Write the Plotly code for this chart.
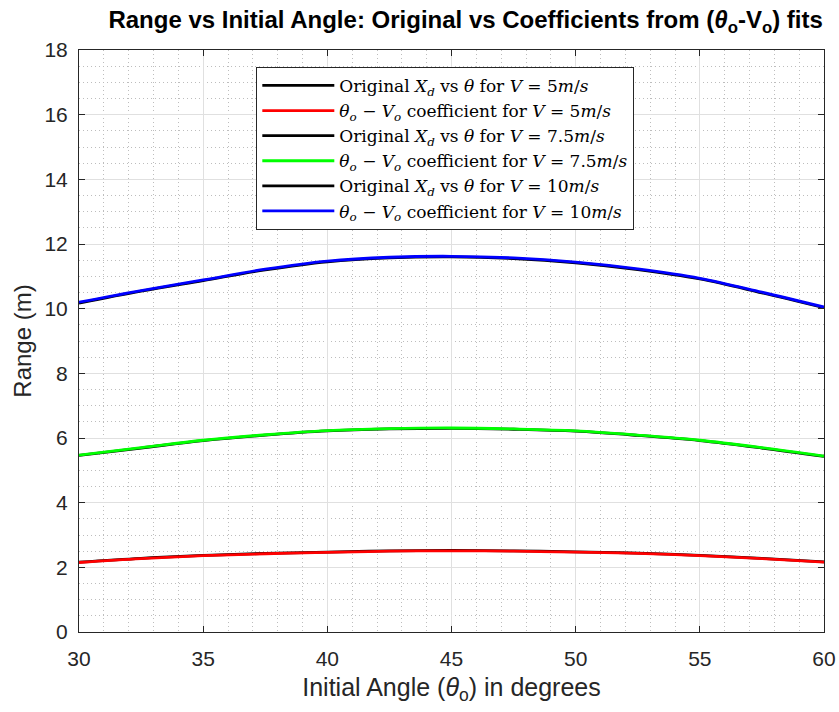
import plotly.graph_objects as go

# Launch angles (degrees)
angles = [30, 32.5, 35, 37.5, 40, 42.5, 45, 47.5, 50, 52.5, 55, 57.5, 60]

# Original range data X_d vs theta
orig_v5 = [2.16, 2.28, 2.37, 2.43, 2.47, 2.51, 2.52, 2.51, 2.48, 2.44, 2.37, 2.28, 2.17]
orig_v75 = [5.46, 5.69, 5.92, 6.09, 6.22, 6.28, 6.30, 6.27, 6.21, 6.08, 5.92, 5.69, 5.43]
orig_v10 = [10.17, 10.54, 10.87, 11.20, 11.45, 11.57, 11.60, 11.55, 11.42, 11.21, 10.92, 10.49, 10.03]

# Ranges rebuilt from the theta_o - V_o fit coefficients
fit_v5 = [2.15, 2.27, 2.36, 2.42, 2.46, 2.50, 2.51, 2.50, 2.47, 2.43, 2.36, 2.27, 2.16]
fit_v75 = [5.47, 5.70, 5.93, 6.10, 6.23, 6.29, 6.31, 6.28, 6.22, 6.09, 5.93, 5.70, 5.44]
fit_v10 = [10.20, 10.56, 10.89, 11.22, 11.47, 11.59, 11.62, 11.57, 11.44, 11.23, 10.94, 10.51, 10.05]

serif = "DejaVu Serif, Liberation Serif, serif"
sans = "Liberation Sans, Arial, sans-serif"
ink = "#262626"

series = [
    (orig_v5, "black", "Original <i>X</i><sub><i>d</i></sub> vs <i>θ</i> for <i>V</i> = 5<i>m</i>/<i>s</i>"),
    (fit_v5, "#ff0000", "<i>θ</i><sub><i>o</i></sub> − <i>V</i><sub><i>o</i></sub> coefficient for <i>V</i> = 5<i>m</i>/<i>s</i>"),
    (orig_v75, "black", "Original <i>X</i><sub><i>d</i></sub> vs <i>θ</i> for <i>V</i> = 7.5<i>m</i>/<i>s</i>"),
    (fit_v75, "#00ff00", "<i>θ</i><sub><i>o</i></sub> − <i>V</i><sub><i>o</i></sub> coefficient for <i>V</i> = 7.5<i>m</i>/<i>s</i>"),
    (orig_v10, "black", "Original <i>X</i><sub><i>d</i></sub> vs <i>θ</i> for <i>V</i> = 10<i>m</i>/<i>s</i>"),
    (fit_v10, "#0000ff", "<i>θ</i><sub><i>o</i></sub> − <i>V</i><sub><i>o</i></sub> coefficient for <i>V</i> = 10<i>m</i>/<i>s</i>"),
]

fig = go.Figure()
for ys, color, name in series:
    fig.add_trace(go.Scatter(
        x=angles, y=ys, mode="lines", name=name,
        line=dict(color=color, width=2.8, shape="spline", smoothing=1.0),
    ))

axis_common = dict(
    showline=True, linecolor=ink, linewidth=1, mirror="ticks",
    ticks="inside", ticklen=6, tickcolor=ink,
    tickfont=dict(family=sans, size=21, color=ink),
    showgrid=True, gridcolor="#e0e0e0", gridwidth=1,
    zeroline=False, automargin=False,
)

fig.update_xaxes(
    range=[30, 60], tick0=30, dtick=5, ticklabelstandoff=8,
    minor=dict(dtick=1, showgrid=True, gridcolor="#bdbdbd", griddash="1px,3px", ticks=""),
    title=dict(text="Initial Angle (<i>θ</i><sub>o</sub>) in degrees",
               font=dict(family=sans, size=25, color=ink), standoff=9),
    **axis_common,
)
fig.update_yaxes(
    range=[0, 18], tick0=0, dtick=2, ticklabelstandoff=6,
    minor=dict(dtick=0.5, showgrid=True, gridcolor="#bdbdbd", griddash="1px,3px", ticks=""),
    title=dict(text="Range (m)", font=dict(family=sans, size=24, color=ink), standoff=6),
    **axis_common,
)

fig.update_layout(
    width=839, height=712,
    margin=dict(l=79, r=15, t=50, b=80),
    paper_bgcolor="white", plot_bgcolor="white",
    title=dict(
        text="<b>Range vs Initial Angle: Original vs Coefficients from (<i>θ</i><sub>o</sub>-V<sub>o</sub>) fits</b>",
        x=0.555, xanchor="center", y=0.972, yanchor="middle",
        font=dict(family=sans, size=24, color="black"),
    ),
    legend=dict(
        x=0.238, y=0.971, xanchor="left", yanchor="top",
        bgcolor="white", bordercolor=ink, borderwidth=1,
        font=dict(family=serif, size=17, color="black"),
        tracegroupgap=0, itemwidth=72,
    ),
    showlegend=True,
)

fig.write_html("out.html")
